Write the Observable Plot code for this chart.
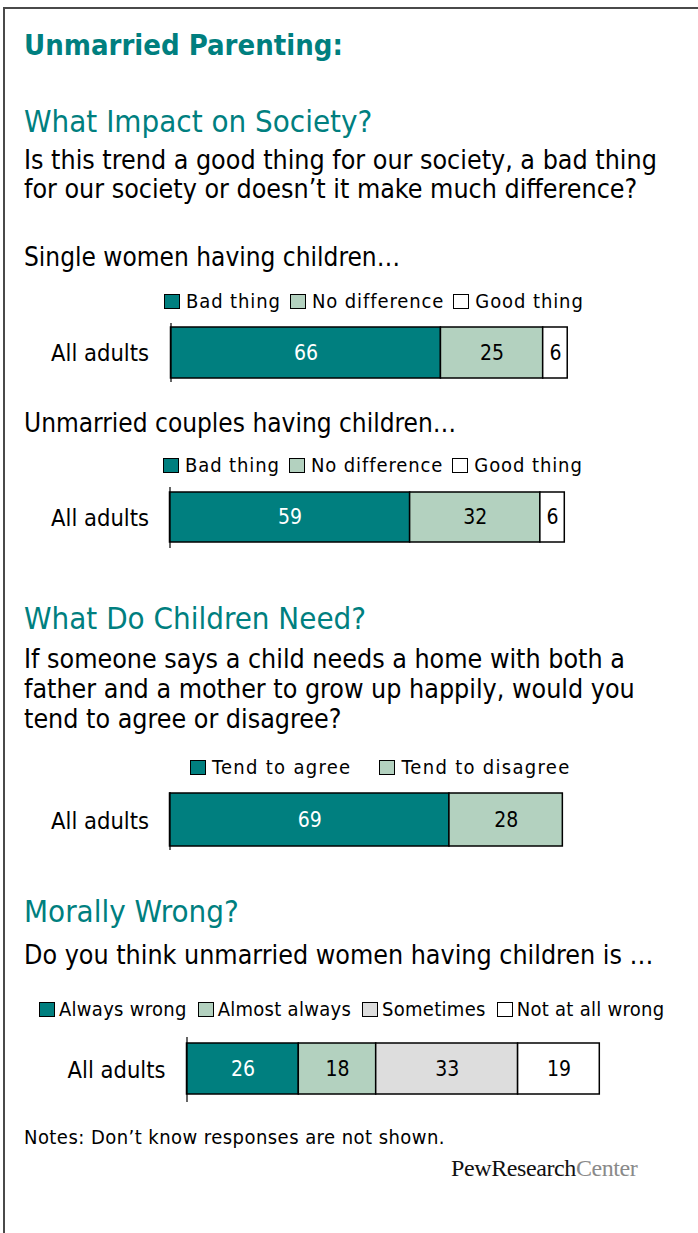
<!DOCTYPE html>
<html>
<head>
<meta charset="utf-8">
<script src="https://cdn.jsdelivr.net/npm/d3@7"></script>
<script src="https://cdn.jsdelivr.net/npm/@observablehq/plot@0.6"></script>
<style>
  html, body { margin: 0; padding: 0; background: #fff; width: 698px; height: 1233px; overflow: hidden; }
  #page { position: relative; width: 698px; height: 1233px; overflow: hidden; }
  .frame { position: absolute; left: 2.5px; top: 6.5px; width: 800px; height: 1400px; border-left: 2px solid #4a4a4a; border-top: 2px solid #4a4a4a; }
  .t { position: absolute; white-space: nowrap; line-height: 1; }
  .cond { font-family: "DejaVu Sans Condensed", "DejaVu Sans", sans-serif; font-stretch: condensed; }
  .legend { position: absolute; display: flex; align-items: center; white-space: nowrap; }
  .legend .sw { box-sizing: border-box; width: 16px; height: 16px; border: 1.5px solid #000; flex: none; }
  svg.chart { position: absolute; left: 0; }
</style>
</head>
<body>
<div id="page"><div class="frame"></div></div>
<script>
// ---- Data ----
const groupLabel = "All adults";

const impactCategories = ["Bad thing", "No difference", "Good thing"];
const singleWomenValues = [66, 25, 6];
const unmarriedCouplesValues = [59, 32, 6];

const needCategories = ["Tend to agree", "Tend to disagree"];
const needValues = [69, 28];

const moralCategories = ["Always wrong", "Almost always", "Sometimes", "Not at all wrong"];
const moralValues = [26, 18, 33, 19];

// ---- Styles ----
const TEAL = "#007f7f";
const palette = ["#007f7f", "#b3d1bf", "#dddddd", "#ffffff"];
const palette3 = [palette[0], palette[1], palette[3]];
const palette2 = [palette[0], palette[1]];
const COND = '"DejaVu Sans Condensed", "DejaVu Sans", sans-serif';

const page = document.getElementById("page");

function text(str, {x, baseline, size, cls = "cond", color = "#000", weight = "normal", ls = 0}) {
  const d = document.createElement("div");
  d.className = "t " + cls;
  d.textContent = str;
  d.style.left = x + "px";
  d.style.top = (baseline - 0.846 * size) + "px";
  d.style.fontSize = size + "px";
  d.style.color = color;
  d.style.fontWeight = weight;
  d.style.letterSpacing = ls + "px";
  page.appendChild(d);
  return d;
}

function legend(cats, colors, {left, cy, size, cls = "cond", ls = 0, gap = 9, swGap = 6, sw = 16}) {
  const L = document.createElement("div");
  L.className = "legend " + cls;
  L.style.left = left + "px";
  L.style.top = (cy - 12) + "px";
  L.style.height = "24px";
  L.style.fontSize = size + "px";
  L.style.letterSpacing = ls + "px";
  cats.forEach((c, i) => {
    const s = document.createElement("div");
    s.className = "sw";
    s.style.width = sw + "px"; s.style.height = (sw - 1) + "px";
    s.style.background = colors[i];
    s.style.marginRight = swGap + "px";
    const t = document.createElement("span");
    t.textContent = c;
    t.style.marginRight = (i < cats.length - 1 ? gap : 0) + "px";
    L.appendChild(s); L.appendChild(t);
  });
  page.appendChild(L);
}

function barChart(cats, vals, colors, {top, height, marginLeft, marginRight, insetTop, insetBottom, labelPad, labelSize, valueSize}) {
  const data = cats.map((c, i) => ({
    group: groupLabel, category: c, value: vals[i],
    fill: colors[i], ink: i === 0 ? "#ffffff" : "#000000"
  }));
  const svg = Plot.plot({
    width: 698, height,
    marginLeft, marginRight, marginTop: 0, marginBottom: 0,
    x: {domain: [0, 100], axis: null},
    y: {domain: [groupLabel], axis: null, padding: 0},
    color: {type: "identity"},
    style: {fontFamily: COND, background: "transparent", overflow: "visible", color: "#000"},
    marks: [
      Plot.barX(data, Plot.stackX({x: "value", y: "group", z: "category", fill: "fill", stroke: "#000", strokeWidth: 1.5, insetTop, insetBottom})),
      Plot.text(data, Plot.stackX({x: "value", y: "group", z: "category", text: d => String(d.value), fill: "ink", fontSize: valueSize, dy: (insetTop - insetBottom) / 2})),
      Plot.ruleX([0], {stroke: "#000", strokeWidth: 1.2}),
      Plot.axisY({label: null, tickSize: 0, tickPadding: labelPad, fontSize: labelSize, fill: "#000"})
    ]
  });
  svg.classList.add("chart");
  svg.style.top = top + "px";
  page.appendChild(svg);
}

// ---- Text ----
text("Unmarried Parenting:", {x: 24, baseline: 56, size: 29, color: TEAL, weight: "bold"});
text("What Impact on Society?", {x: 24, baseline: 132, size: 31, color: TEAL});
text("Is this trend a good thing for our society, a bad thing", {x: 24, baseline: 170, size: 26.6});
text("for our society or doesn\u2019t it make much difference?", {x: 24, baseline: 199, size: 26.6});
text("Single women having children\u2026", {x: 24, baseline: 266, size: 26});
legend(impactCategories, palette3, {left: 164, cy: 301, size: 20, ls: 0.9});
barChart(impactCategories, singleWomenValues, palette3, {top: 323, height: 59, marginLeft: 170.5, marginRight: 118.5, insetTop: 4, insetBottom: 4, labelPad: 22, labelSize: 23.5, valueSize: 21});

text("Unmarried couples having children\u2026", {x: 24, baseline: 432, size: 26});
legend(impactCategories, palette3, {left: 163, cy: 465, size: 20, ls: 0.9});
barChart(impactCategories, unmarriedCouplesValues, palette3, {top: 487, height: 61, marginLeft: 169.5, marginRight: 121.5, insetTop: 5, insetBottom: 6, labelPad: 21, labelSize: 23.5, valueSize: 21});

text("What Do Children Need?", {x: 24, baseline: 629, size: 31, color: TEAL});
text("If someone says a child needs a home with both a", {x: 24, baseline: 669, size: 26.6});
text("father and a mother to grow up happily, would you", {x: 24, baseline: 699, size: 26.6});
text("tend to agree or disagree?", {x: 24, baseline: 729, size: 26.6});
legend(needCategories, palette2, {left: 190, cy: 767, size: 20, ls: 1.3, gap: 28});
barChart(needCategories, needValues, palette2, {top: 792, height: 58, marginLeft: 169.5, marginRight: 123.5, insetTop: 1, insetBottom: 4, labelPad: 21, labelSize: 23.5, valueSize: 21});

text("Morally Wrong?", {x: 24, baseline: 922, size: 31, color: TEAL});
text("Do you think unmarried women having children is \u2026", {x: 24, baseline: 965, size: 26.6});
legend(moralCategories, palette, {left: 39, cy: 1009, size: 20, ls: 0.28, gap: 11, swGap: 4});
barChart(moralCategories, moralValues, palette, {top: 1037, height: 65, marginLeft: 186.5, marginRight: 81.5, insetTop: 6, insetBottom: 8, labelPad: 21.5, labelSize: 23.5, valueSize: 21});

text("Notes: Don\u2019t know responses are not shown.", {x: 24, baseline: 1144, size: 20, ls: 0.45});
const pew = text("", {x: 451, baseline: 1176, size: 24, cls: "", color: "#111"});
pew.style.fontFamily = '"Liberation Serif", "DejaVu Serif", serif';
pew.style.letterSpacing = "-0.4px";
pew.innerHTML = 'PewResearch<span style="color:#8a8a8a">Center</span>';
</script>
</body>
</html>
